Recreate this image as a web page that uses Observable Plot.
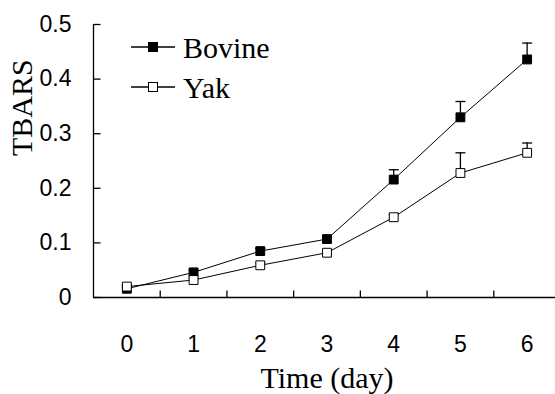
<!DOCTYPE html>
<html><head><meta charset="utf-8">
<script src="https://cdn.jsdelivr.net/npm/d3@7"></script>
<script src="https://cdn.jsdelivr.net/npm/@observablehq/plot@0.6"></script>
<style>body{margin:0;background:#fff;} #chart{position:relative;width:555px;height:394px;overflow:hidden;}</style>
</head><body><div id="chart"></div>
<script>
const days = [0, 1, 2, 3, 4, 5, 6];
const bovine = [0.016, 0.046, 0.085, 0.107, 0.216, 0.330, 0.436];
const bovineErr = [0.003, 0.004, 0.005, 0.005, 0.018, 0.029, 0.030];
const yak = [0.020, 0.032, 0.059, 0.082, 0.147, 0.228, 0.265];
const yakErr = [0.003, 0.003, 0.004, 0.004, 0.005, 0.037, 0.018];
const yTicks = [0, 0.1, 0.2, 0.3, 0.4, 0.5];
const seriesNames = ["Bovine", "Yak"];
const seriesFill = ["black", "white"];
const xLabel = "Time (day)";
const yLabel = "TBARS";

const series = [
  days.map((d, i) => ({day: d, v: bovine[i], e: bovineErr[i], s: seriesNames[0]})),
  days.map((d, i) => ({day: d, v: yak[i], e: yakErr[i], s: seriesNames[1]}))
];
const xBounds = days.slice(1).map(d => d - 0.5);

const capSymbol = {draw(ctx, size){const w = Math.sqrt(size/Math.PI); ctx.moveTo(-w,0); ctx.lineTo(w,0);}};
const tickRight = {draw(ctx, size){const w = Math.sqrt(size/Math.PI); ctx.moveTo(0,0); ctx.lineTo(w,0);}};
const tickUp = {draw(ctx, size){const w = Math.sqrt(size/Math.PI); ctx.moveTo(0,0); ctx.lineTo(0,-w);}};

const marks = [
  Plot.ruleX([-0.5], {stroke: "black", strokeWidth: 1.3}),
  Plot.ruleY([0], {stroke: "black", strokeWidth: 1.3}),
  Plot.dot(yTicks, {y: d => d, frameAnchor: "left", symbol: tickRight, r: 7, stroke: "black", fill: "none", strokeWidth: 1.3}),
  Plot.dot(xBounds, {x: d => d, frameAnchor: "bottom", symbol: tickUp, r: 7, stroke: "black", fill: "none", strokeWidth: 1.3}),
  Plot.axisX(days, {tickSize: 0, tickPadding: 38, tickFormat: d => String(d), label: null, fontSize: 23}),
  Plot.axisY(yTicks, {tickSize: 0, tickPadding: 22, tickFormat: d3.format("~g"), label: null, fontSize: 23}),
  Plot.text([xLabel], {frameAnchor: "bottom", dy: 81, lineAnchor: "middle", fontFamily: "Liberation Serif", fontSize: 30}),
  Plot.text([yLabel], {frameAnchor: "left", dx: -71, dy: -5, rotate: -90, lineAnchor: "middle", fontFamily: "Liberation Serif", fontSize: 30})
];
series.forEach((data, k) => {
  marks.push(
    Plot.ruleX(data, {x: "day", y1: "v", y2: d => d.v + d.e, stroke: "black", strokeWidth: 1.3}),
    Plot.dot(data, {x: "day", y: d => d.v + d.e, symbol: capSymbol, r: 5, stroke: "black", fill: "none", strokeWidth: 1.3}),
    Plot.line(data, {x: "day", y: "v", stroke: "black", strokeWidth: 1}),
    Plot.dot(data, {x: "day", y: "v", symbol: "square", r: 5, stroke: "black", fill: seriesFill[k], strokeWidth: 1})
  );
});

const chart = Plot.plot({
  width: 555, height: 394,
  marginLeft: 93, marginRight: -5, marginTop: 24, marginBottom: 97,
  style: {fontFamily: "Liberation Sans", fontSize: "23px", color: "black", background: "white", overflow: "visible"},
  x: {domain: [-0.5, 6.5]},
  y: {domain: [0, 0.5]},
  marks
});
document.getElementById("chart").appendChild(chart);

// legend
const svg = d3.select(chart);
const lg = svg.append("g");
seriesNames.forEach((name, k) => {
  const cy = 47 + k * 40;
  const g = lg.append("g").attr("transform", `translate(0,${cy})`);
  g.append("line").attr("x1", 131).attr("x2", 175).attr("y1", 0).attr("y2", 0).attr("stroke", "black").attr("stroke-width", 1.3);
  g.append("rect").attr("x", 148.5).attr("y", -4.5).attr("width", 9).attr("height", 9).attr("fill", seriesFill[k]).attr("stroke", "black");
  g.append("text").attr("x", 183).attr("y", 11).attr("text-anchor", "start").attr("font-family", "Liberation Serif").attr("font-size", "30px").attr("fill", "black").text(name);
});
</script>
</body></html>
